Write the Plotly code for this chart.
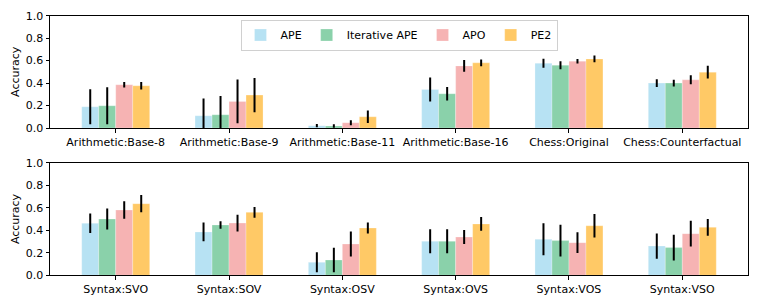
import plotly.graph_objects as go

series = ["APE", "Iterative APE", "APO", "PE2"]
colors = ["#b7e2f3", "#8ad1aa", "#f6b3b3", "#ffc966"]

top_categories = ["Arithmetic:Base-8", "Arithmetic:Base-9", "Arithmetic:Base-11",
                  "Arithmetic:Base-16", "Chess:Original", "Chess:Counterfactual"]
top_values = {
    "APE":           [0.189, 0.109, 0.021, 0.343, 0.577, 0.400],
    "Iterative APE": [0.198, 0.118, 0.018, 0.305, 0.559, 0.400],
    "APO":           [0.385, 0.237, 0.047, 0.553, 0.595, 0.429],
    "PE2":           [0.376, 0.293, 0.100, 0.580, 0.615, 0.497],
}
top_errors = {
    "APE":           [0.155, 0.154, 0.015, 0.107, 0.040, 0.035],
    "Iterative APE": [0.165, 0.166, 0.015, 0.060, 0.035, 0.030],
    "APO":           [0.024, 0.195, 0.022, 0.053, 0.020, 0.040],
    "PE2":           [0.033, 0.152, 0.055, 0.030, 0.030, 0.057],
}

bottom_categories = ["Syntax:SVO", "Syntax:SOV", "Syntax:OSV",
                     "Syntax:OVS", "Syntax:VOS", "Syntax:VSO"]
bottom_values = {
    "APE":           [0.462, 0.385, 0.115, 0.302, 0.320, 0.260],
    "Iterative APE": [0.500, 0.447, 0.136, 0.302, 0.308, 0.246],
    "APO":           [0.580, 0.464, 0.278, 0.340, 0.290, 0.370],
    "PE2":           [0.636, 0.559, 0.420, 0.456, 0.440, 0.426],
}
bottom_errors = {
    "APE":           [0.086, 0.083, 0.089, 0.107, 0.143, 0.112],
    "Iterative APE": [0.093, 0.033, 0.109, 0.107, 0.140, 0.115],
    "APO":           [0.078, 0.074, 0.112, 0.062, 0.092, 0.114],
    "PE2":           [0.077, 0.047, 0.049, 0.061, 0.105, 0.074],
}

yticks = [0.0, 0.2, 0.4, 0.6, 0.8, 1.0]

fig = go.Figure()
for i, s in enumerate(series):
    fig.add_trace(go.Bar(
        name=s, x=top_categories, y=top_values[s],
        marker=dict(color=colors[i], line=dict(color="rgba(255,255,255,0.5)", width=0.5)),
        error_y=dict(type="data", array=top_errors[s], color="black", thickness=2, width=0),
        xaxis="x", yaxis="y", showlegend=True, legendgroup=s,
    ))
for i, s in enumerate(series):
    fig.add_trace(go.Bar(
        name=s, x=bottom_categories, y=bottom_values[s],
        marker=dict(color=colors[i], line=dict(color="rgba(255,255,255,0.5)", width=0.5)),
        error_y=dict(type="data", array=bottom_errors[s], color="black", thickness=2, width=0),
        xaxis="x2", yaxis="y2", showlegend=False, legendgroup=s,
    ))

# page body has an 8px margin; figure is sized/positioned to compensate
W, H, OFF = 753, 297, 8
font = dict(family="DejaVu Sans", size=11, color="black")
xdom = [(50 - OFF) / W, (748 - OFF) / W]
axis_common = dict(showline=True, linecolor="black", linewidth=1, mirror=True,
                   ticks="outside", ticklen=3.5, tickwidth=1, tickcolor="black",
                   showgrid=False, zeroline=False, tickfont=font, automargin=False)

fig.update_layout(
    width=W, height=H,
    margin=dict(l=0, r=0, t=0, b=0, autoexpand=False),
    paper_bgcolor="white", plot_bgcolor="white",
    barmode="group", bargap=0.4, bargroupgap=0,
    font=font,
    xaxis=dict(domain=xdom, anchor="y", range=[-0.58, 5.58], **axis_common),
    yaxis=dict(domain=[(305 - 128) / H, (305 - 15.7) / H], anchor="x", range=[0, 1],
               tickvals=yticks, tickformat=".1f",
               title=dict(text="Accuracy", font=font, standoff=3), **axis_common),
    xaxis2=dict(domain=xdom, anchor="y2", range=[-0.58, 5.58], **axis_common),
    yaxis2=dict(domain=[(305 - 275.3) / H, (305 - 162.7) / H], anchor="x2", range=[0, 1],
                tickvals=yticks, tickformat=".1f",
                title=dict(text="Accuracy", font=font, standoff=3), **axis_common),
    legend=dict(orientation="h", x=(399 - OFF) / W, xanchor="center", y=(305 - 19.5) / H,
                yanchor="top",
                bordercolor="#d0d0d0", borderwidth=1, bgcolor="rgba(255,255,255,0.8)",
                font=font, itemwidth=30, tracegroupgap=0),
)

fig.write_html("out.html")
